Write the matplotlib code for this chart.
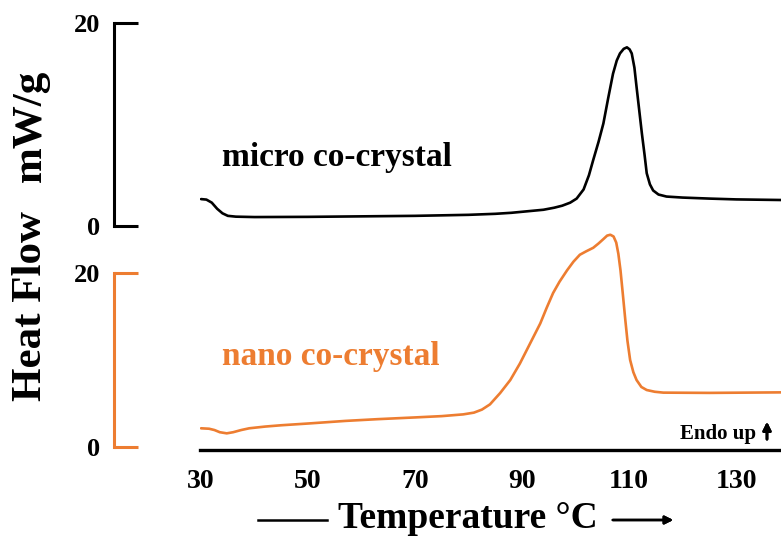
import numpy as np
import matplotlib.pyplot as plt

# DSC traces, temperature in °C, heat flow in mW/g
t_micro = [30.0, 31.0, 32.0, 33.0, 34.0, 35.0, 36.5, 40, 50, 60, 70, 80, 85, 88, 91, 94,
           96, 97.5, 99, 100.2, 101.5, 102.5, 103.3, 104.3, 105.2, 106.1, 107, 107.7,
           108.3, 109, 109.6, 110.1, 110.5, 111, 111.4, 111.9, 112.4, 112.9, 113.3,
           113.9, 114.5, 115.5, 117, 120, 125, 130, 138.4]
hf_micro = [2.65, 2.6, 2.3, 1.7, 1.25, 1.0, 0.92, 0.88, 0.9, 0.95, 1.0, 1.1, 1.2, 1.3,
            1.45, 1.6, 1.8, 2.0, 2.3, 2.7, 3.6, 5.0, 6.5, 8.3, 10.1, 12.6, 15.0, 16.3,
            17.0, 17.45, 17.6, 17.4, 17.0, 15.6, 13.7, 11.4, 9.1, 7.0, 5.2, 4.1, 3.5,
            3.1, 2.9, 2.8, 2.7, 2.62, 2.56]

t_nano = [30.0, 31.5, 32.5, 33.5, 34.8, 36, 37.5, 39, 42, 45, 50, 57, 63, 70, 75, 79,
          81, 82.5, 84, 85.9, 87.8, 89.6, 91.5, 93.4, 94.6, 95.8, 97, 98.4, 99.6, 100.8,
          102, 103.3, 104.3, 105.2, 105.9, 106.5, 107.1, 107.6, 108.0, 108.4, 108.8,
          109.3, 109.7, 110.2, 110.8, 111.4, 112.3, 113.3, 114.8, 116.4, 125, 138.4]
hf_nano = [2.15, 2.1, 1.95, 1.7, 1.57, 1.7, 1.95, 2.15, 2.35, 2.5, 2.7, 3.0, 3.2, 3.4,
           3.55, 3.75, 3.95, 4.3, 4.9, 6.2, 7.7, 9.6, 11.9, 14.2, 16.0, 17.7, 19.0, 20.3,
           21.3, 22.1, 22.5, 22.9, 23.4, 23.9, 24.3, 24.4, 24.2, 23.5, 22.2, 20.3, 17.8,
           14.6, 12.2, 10.0, 8.6, 7.7, 6.9, 6.55, 6.35, 6.25, 6.22, 6.28]

x_ticks = [30, 50, 70, 90, 110, 130]
y_ticks = [0, 20]

orange = '#ED7D31'
plt.rcParams['font.family'] = ['Liberation Serif', 'DejaVu Serif']
plt.rcParams['font.weight'] = 'bold'

W, H = 781, 539
fig = plt.figure(figsize=(W / 100, H / 100), dpi=100)


def px_axes(x0, x1, ytop, ybot):
    # axes placed with pixel edges (y measured from top)
    return fig.add_axes([x0 / W, 1 - ybot / H, (x1 - x0) / W, (ybot - ytop) / H])


def fx(x):
    return x / W


def fy(y):
    return 1 - y / H


ax1 = px_axes(200, 781, 5, 235)
ax2 = px_axes(200, 781, 225, 450)

for ax, col in [(ax1, 'black'), (ax2, orange)]:
    ax.patch.set_alpha(0)
    ax.set_xlim(29.8, 138.4)
    for s in ['top', 'right']:
        ax.spines[s].set_visible(False)
    ax.spines['left'].set_position(('outward', 62))
    ax.spines['left'].set_bounds(0, 20)
    ax.spines['left'].set_color(col)
    ax.spines['left'].set_linewidth(2.2)
    ax.set_yticks(y_ticks)
    ax.tick_params(axis='y', direction='in', length=17.5, width=2.2, color=col,
                   labelsize=19, pad=10)

ax1.set_ylim(-0.887, 21.77)
ax2.set_ylim(-0.345, 25.52)

ax1.spines['bottom'].set_visible(False)
ax1.set_xticks([])

ax2.spines['bottom'].set_linewidth(2.4)
ax2.set_xticks(x_ticks)
ax2.tick_params(axis='x', length=0, labelsize=20, pad=14)

ax1.plot(t_micro, hf_micro, color='black', lw=1.9, solid_capstyle='round')
ax2.plot(t_nano, hf_nano, color=orange, lw=1.9, solid_capstyle='round')

fig.text(fx(222), fy(157), 'micro co-crystal', fontsize=24, color='black',
         va='center', ha='left')
fig.text(fx(222), fy(357), 'nano co-crystal', fontsize=24, color=orange,
         va='center', ha='left')

fig.text(fx(680), fy(434), 'Endo up', fontsize=15, va='center', ha='left')
fig.add_artist(plt.annotate('', xy=(fx(767), fy(419)), xytext=(fx(767), fy(442)),
                            xycoords='figure fraction',
                            arrowprops=dict(arrowstyle='-|>', color='black', lw=2.0,
                                            mutation_scale=12)))

# axis titles
fig.text(fx(31), fy(306), 'Heat Flow', rotation=90, fontsize=31,
         va='center', ha='center')
fig.text(fx(31), fy(126), 'mW/g', rotation=90, fontsize=31,
         va='center', ha='center')
fig.text(fx(468), fy(528), 'Temperature °C', fontsize=27, va='baseline', ha='center')
fig.add_artist(plt.Line2D([fx(258), fx(327)], [fy(520), fy(520)],
                          color='black', lw=1.8))
fig.add_artist(plt.annotate('', xy=(fx(676), fy(520)), xytext=(fx(610), fy(520)),
                            xycoords='figure fraction',
                            arrowprops=dict(arrowstyle='-|>', color='black', lw=1.8,
                                            mutation_scale=12)))

fig.savefig('out.png', dpi=100)
